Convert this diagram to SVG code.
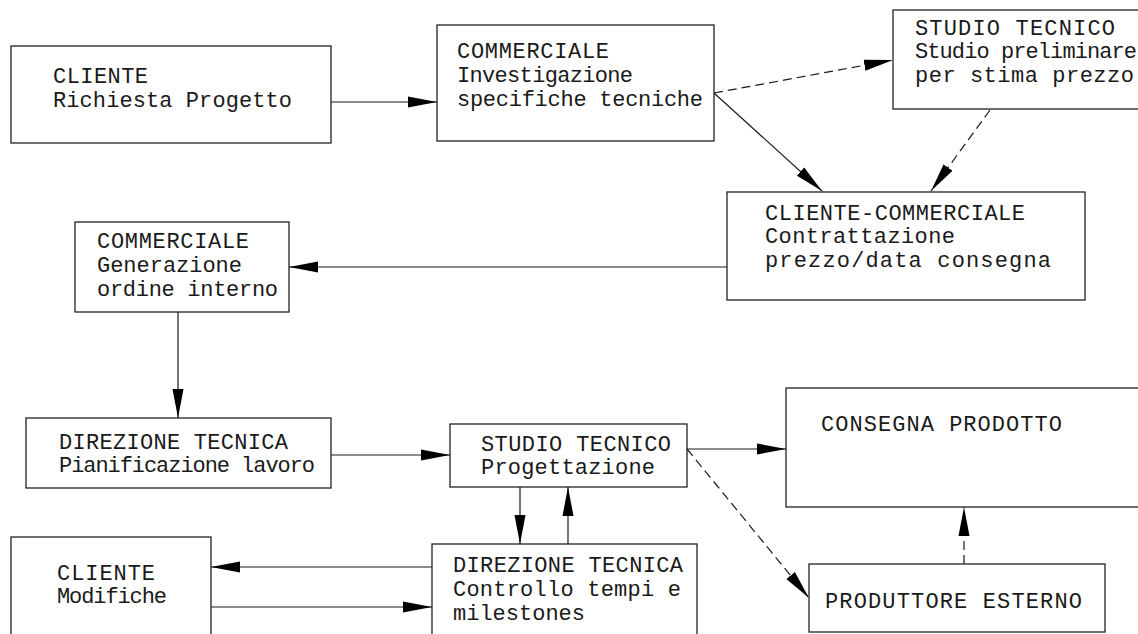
<svg xmlns="http://www.w3.org/2000/svg" width="1138" height="634" viewBox="0 0 1138 634">
  <style>
    .box { fill: #ffffff; stroke: #222222; stroke-width: 1.3; }
    .lbl { font-family: "Liberation Mono", "DejaVu Sans Mono", monospace; font-size: 22px; fill: #1a1a1a; }
    .wire { fill: none; stroke: #1a1a1a; stroke-width: 1.2; marker-end: url(#head); }
    .dash { stroke-dasharray: 9 5; }
  </style>
  <defs>
    <marker id="head" markerUnits="userSpaceOnUse" markerWidth="30" markerHeight="12" refX="29" refY="6" orient="auto">
      <path d="M0,0.5 L29,6 L0,11.5 Z" fill="#000000"/>
    </marker>
  </defs>
  <rect width="1138" height="634" fill="#ffffff"/>

  <!-- process steps -->
  <g id="cliente-richiesta">
    <rect class="box" x="11" y="46" width="320" height="97"/>
    <text class="lbl" x="53" y="83" textLength="95" lengthAdjust="spacing">CLIENTE</text>
    <text class="lbl" x="53" y="107" textLength="239" lengthAdjust="spacing">Richiesta Progetto</text>
  </g>
  <g id="commerciale-investigazione">
    <rect class="box" x="437" y="25" width="277" height="116"/>
    <text class="lbl" x="457" y="58" textLength="152" lengthAdjust="spacing">COMMERCIALE</text>
    <text class="lbl" x="457" y="82" textLength="176" lengthAdjust="spacing">Investigazione</text>
    <text class="lbl" x="457" y="106" textLength="246" lengthAdjust="spacing">specifiche tecniche</text>
  </g>
  <g id="studio-preliminare">
    <rect class="box" x="893" y="10" width="260" height="99"/>
    <text class="lbl" x="915" y="35" textLength="200" lengthAdjust="spacing">STUDIO TECNICO</text>
    <text class="lbl" x="915" y="58" textLength="222" lengthAdjust="spacing">Studio preliminare</text>
    <text class="lbl" x="915" y="82" textLength="219" lengthAdjust="spacing">per stima prezzo</text>
  </g>
  <g id="cliente-commerciale">
    <rect class="box" x="727" y="192" width="358" height="108"/>
    <text class="lbl" x="765" y="220" textLength="260" lengthAdjust="spacing">CLIENTE-COMMERCIALE</text>
    <text class="lbl" x="765" y="243" textLength="190" lengthAdjust="spacing">Contrattazione</text>
    <text class="lbl" x="765" y="267" textLength="286" lengthAdjust="spacing">prezzo/data consegna</text>
  </g>
  <g id="commerciale-ordine">
    <rect class="box" x="75" y="222" width="214" height="90"/>
    <text class="lbl" x="97" y="248" textLength="152" lengthAdjust="spacing">COMMERCIALE</text>
    <text class="lbl" x="97" y="272" textLength="145" lengthAdjust="spacing">Generazione</text>
    <text class="lbl" x="97" y="296" textLength="181" lengthAdjust="spacing">ordine interno</text>
  </g>
  <g id="direzione-pianificazione">
    <rect class="box" x="26" y="418" width="305" height="70"/>
    <text class="lbl" x="59" y="449" textLength="229" lengthAdjust="spacing">DIREZIONE TECNICA</text>
    <text class="lbl" x="59" y="472" textLength="256" lengthAdjust="spacing">Pianificazione lavoro</text>
  </g>
  <g id="studio-progettazione">
    <rect class="box" x="450" y="424" width="237" height="63"/>
    <text class="lbl" x="481" y="451" textLength="190" lengthAdjust="spacing">STUDIO TECNICO</text>
    <text class="lbl" x="481" y="474" textLength="174" lengthAdjust="spacing">Progettazione</text>
  </g>
  <g id="consegna-prodotto">
    <rect class="box" x="786" y="388" width="370" height="119"/>
    <text class="lbl" x="821" y="431" textLength="241" lengthAdjust="spacing">CONSEGNA PRODOTTO</text>
  </g>
  <g id="cliente-modifiche">
    <rect class="box" x="11" y="537" width="200" height="110"/>
    <text class="lbl" x="57" y="580" textLength="98" lengthAdjust="spacing">CLIENTE</text>
    <text class="lbl" x="57" y="603" textLength="110" lengthAdjust="spacing">Modifiche</text>
  </g>
  <g id="direzione-controllo">
    <rect class="box" x="432" y="544" width="265" height="110"/>
    <text class="lbl" x="453" y="572" textLength="230" lengthAdjust="spacing">DIREZIONE TECNICA</text>
    <text class="lbl" x="453" y="596" textLength="228" lengthAdjust="spacing">Controllo tempi e</text>
    <text class="lbl" x="453" y="620" textLength="132" lengthAdjust="spacing">milestones</text>
  </g>
  <g id="produttore-esterno">
    <rect class="box" x="809" y="564" width="296" height="68"/>
    <text class="lbl" x="825" y="608" textLength="257" lengthAdjust="spacing">PRODUTTORE ESTERNO</text>
  </g>

  <!-- connectors -->
  <g id="connectors">
    <line class="wire" x1="331" y1="102" x2="437" y2="102"/>
    <line class="wire dash" x1="714" y1="93" x2="893" y2="60"/>
    <line class="wire" x1="714" y1="93" x2="822" y2="191"/>
    <line class="wire dash" x1="990" y1="110" x2="931" y2="191"/>
    <line class="wire" x1="727" y1="267" x2="289" y2="267"/>
    <line class="wire" x1="178" y1="312" x2="178" y2="418"/>
    <line class="wire" x1="331" y1="455" x2="450" y2="455"/>
    <line class="wire" x1="687" y1="449" x2="786" y2="449"/>
    <line class="wire dash" x1="687" y1="449" x2="809" y2="598"/>
    <line class="wire" x1="520" y1="487" x2="520" y2="544"/>
    <line class="wire" x1="568" y1="544" x2="568" y2="487"/>
    <line class="wire" x1="432" y1="567" x2="211" y2="567"/>
    <line class="wire" x1="211" y1="607" x2="432" y2="607"/>
    <line class="wire dash" x1="964" y1="564" x2="964" y2="507"/>
  </g>
</svg>
